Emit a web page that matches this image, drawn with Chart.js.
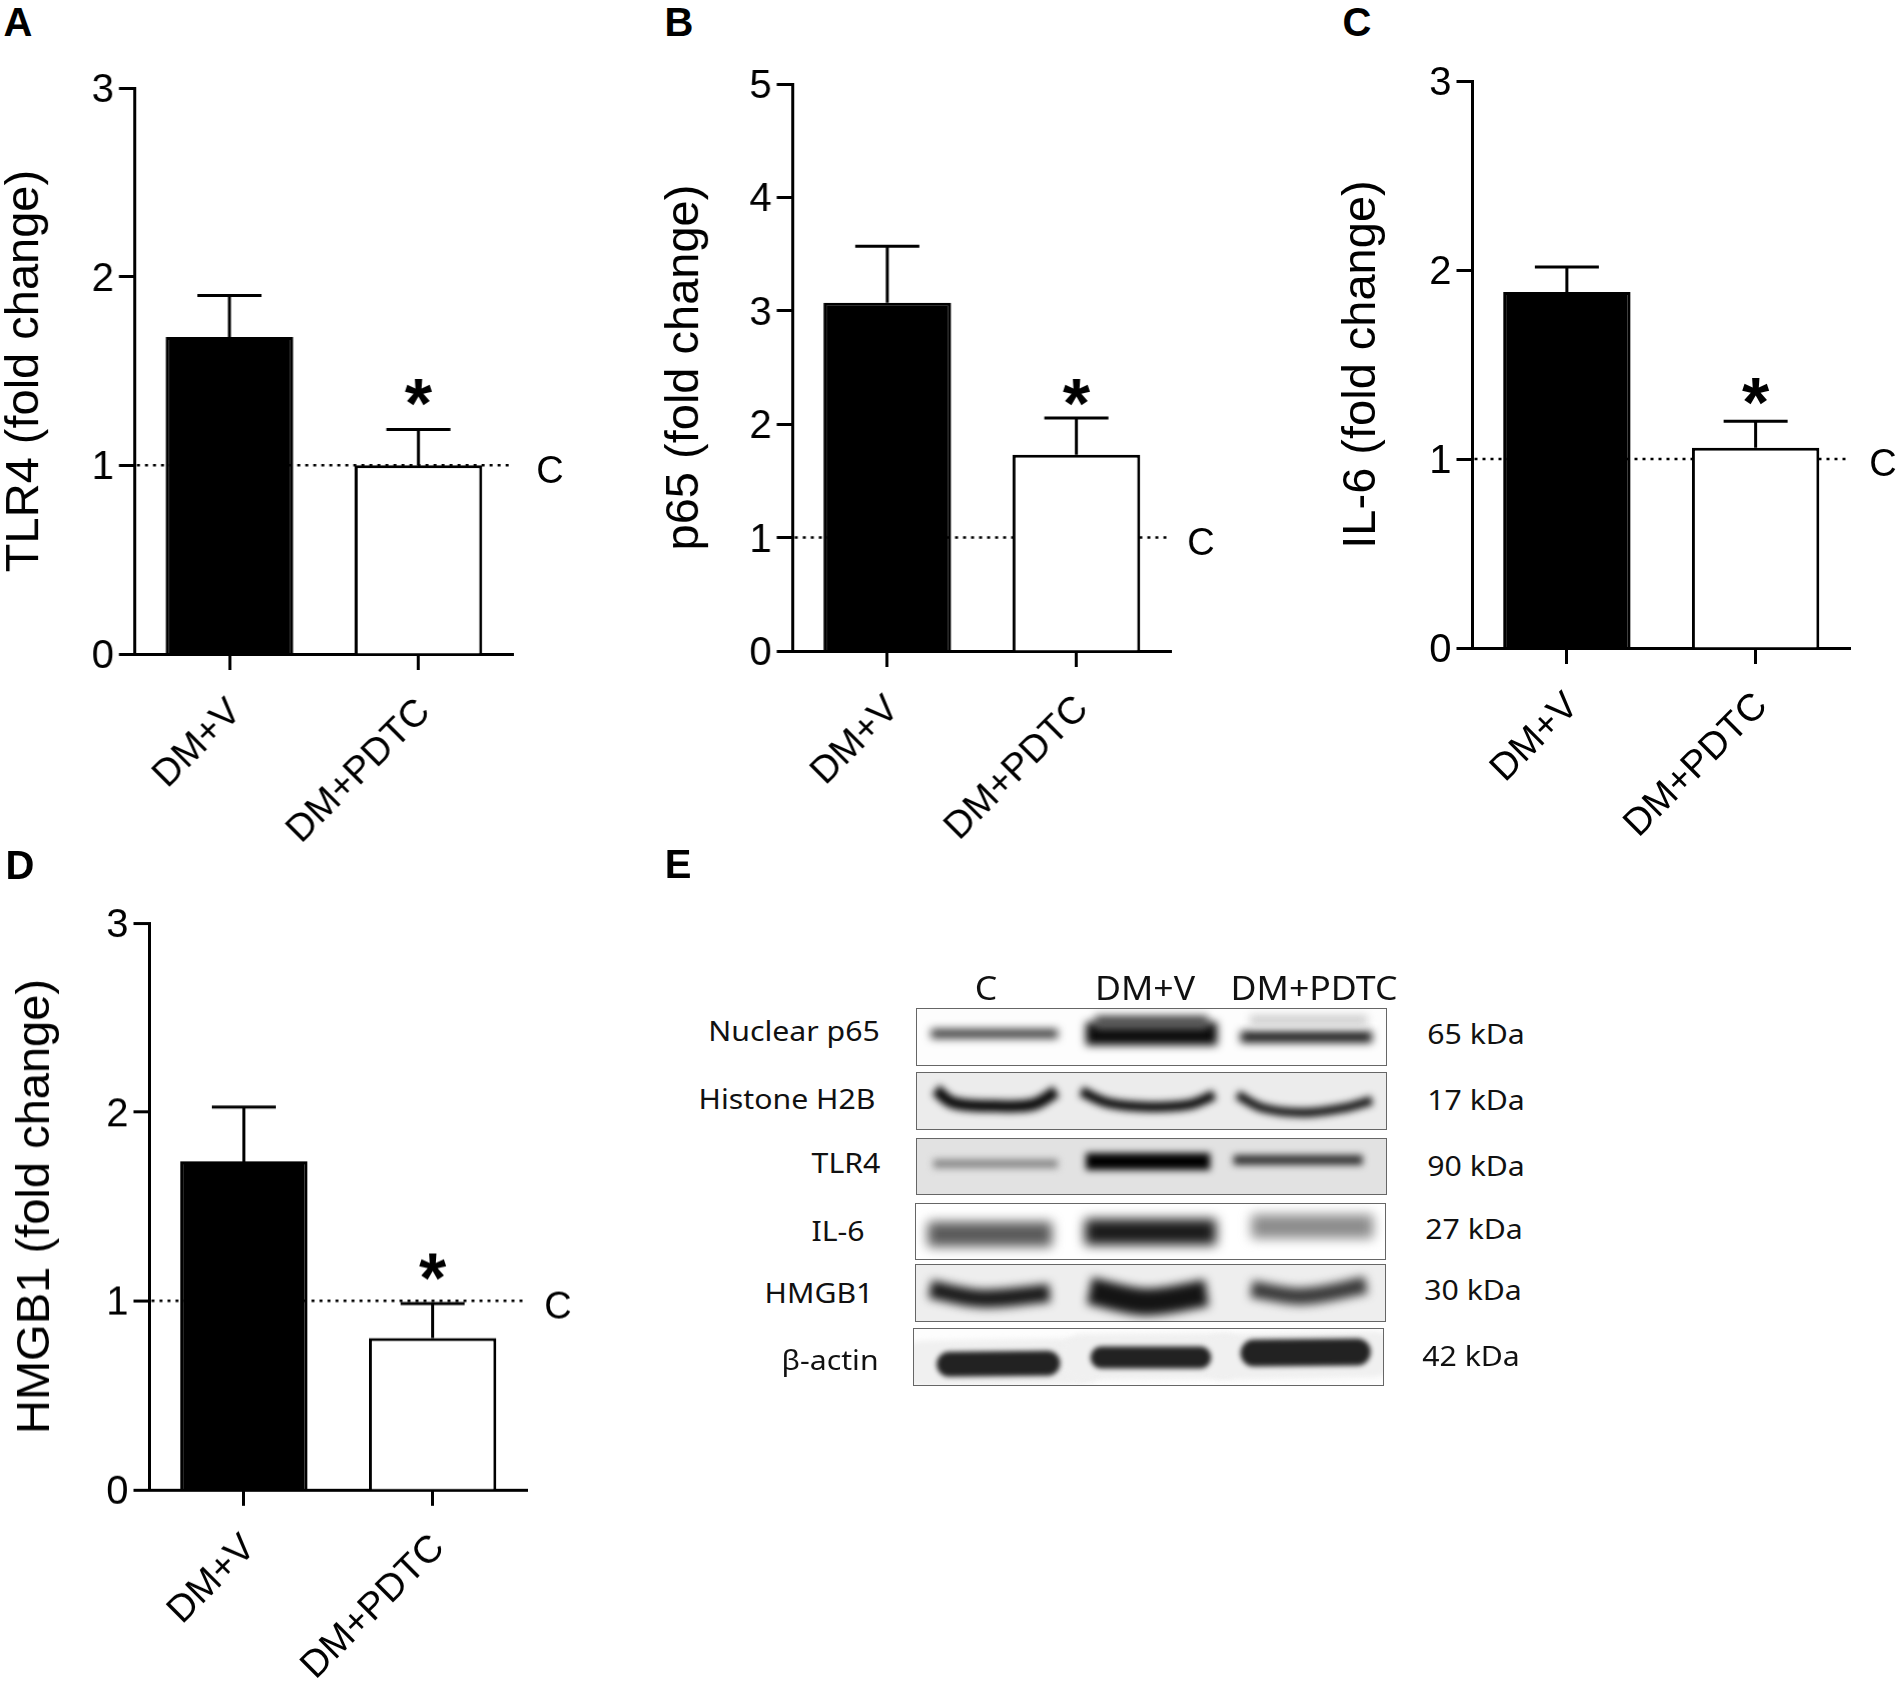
<!DOCTYPE html>
<html><head><meta charset="utf-8">
<script src="https://cdn.jsdelivr.net/npm/chart.js@4"></script>
<style>
html,body{margin:0;padding:0;background:#fff;width:1901px;height:1684px;overflow:hidden}
canvas{position:absolute;display:block}
.t{position:absolute;white-space:nowrap;color:#000;transform:translate(-50%,-50%);line-height:1}
.l{font:bold 40px "Liberation Sans";}
.b{font:28px "Noto Sans";color:#111;transform:translate(-50%,-50%) scaleX(1.08)}
.h{font:33px "Noto Sans";color:#111;transform:translate(-50%,-50%) scaleX(1.08)}
</style></head><body>
<script>
const categories = ["DM+V", "DM+PDTC"];
const tlr4Values = [1.68, 1.00];
const tlr4Errors = [1.90, 1.19];
const p65Values = [3.07, 1.73];
const p65Errors = [3.57, 2.055];
const il6Values = [1.883, 1.059];
const il6Errors = [2.016, 1.20];
const hmgb1Values = [1.738, 0.803];
const hmgb1Errors = [2.026, 0.986];
const controlLevel = 1;
const laneNames = ["C", "DM+V", "DM+PDTC"];
const blotNames = ["Nuclear p65", "Histone H2B", "TLR4", "IL-6", "HMGB1", "β-actin"];
const blotKda = ["65 kDa", "17 kDa", "90 kDa", "27 kDa", "30 kDa", "42 kDa"];
const panelLetters = ["A", "B", "C", "D", "E"];

const FONT = '"Liberation Sans", Arial, sans-serif';
const panels = [
 {title:"TLR4 (fold change)", values:tlr4Values, errors:tlr4Errors, yMax:3, star:1.388, left:-3, plotLeft:134.7, plotRight:512.5, plotTop:87.8, plotBottom:654.4, cGap:37},
 {title:"p65 (fold change)", values:p65Values, errors:p65Errors, yMax:5, star:2.28, left:657, plotLeft:792.5, plotRight:1170.5, plotTop:84, plotBottom:651, cGap:30},
 {title:"IL-6 (fold change)", values:il6Values, errors:il6Errors, yMax:3, star:1.355, left:1334, plotLeft:1472.5, plotRight:1850, plotTop:81, plotBottom:648.4, cGap:33},
 {title:"HMGB1 (fold change)", values:hmgb1Values, errors:hmgb1Errors, yMax:3, star:1.177, left:8, plotLeft:149.5, plotRight:527, plotTop:923.4, plotBottom:1490, cGap:31},
];

const annotate = {
 id:'annotate',
 beforeDatasetsDraw(chart, args, o){
  const {ctx, chartArea:a, scales:{y}} = chart, py = y.getPixelForValue(controlLevel);
  ctx.save(); ctx.strokeStyle='#000'; ctx.lineWidth=2.5; ctx.setLineDash([3,5]);
  ctx.beginPath(); ctx.moveTo(a.left+2,py); ctx.lineTo(a.right,py); ctx.stroke(); ctx.restore();
 },
 afterDatasetsDraw(chart, args, o){
  const {ctx, chartArea:a, scales:{x,y}} = chart;
  ctx.save(); ctx.strokeStyle='#000'; ctx.lineWidth=3; ctx.fillStyle='#000';
  o.values.forEach((v,i)=>{
   const px=x.getPixelForValue(i), p0=y.getPixelForValue(v), p1=y.getPixelForValue(o.errors[i]);
   ctx.beginPath(); ctx.moveTo(px,p0); ctx.lineTo(px,p1); ctx.moveTo(px-32,p1); ctx.lineTo(px+32,p1); ctx.stroke();
  });
  ctx.font='bold 70px '+FONT; ctx.textAlign='center'; ctx.textBaseline='alphabetic';
  const m=ctx.measureText('*');
  ctx.fillText('*', x.getPixelForValue(1), y.getPixelForValue(o.star)+(m.actualBoundingBoxAscent-m.actualBoundingBoxDescent)/2);
  ctx.font='38px '+FONT; ctx.textBaseline='middle';
  ctx.fillText('C', a.right+o.cGap, y.getPixelForValue(controlLevel)+7);
  ctx.restore();
 }
};

panels.forEach(p=>{
 const top=p.plotTop-30, H=p.plotBottom-top+195, W=p.plotRight-p.left+60;
 const c=document.createElement('canvas');
 c.style.left=p.left+'px'; c.style.top=top+'px'; c.width=W; c.height=H; c.style.width=W+'px'; c.style.height=H+'px';
 document.body.appendChild(c);
 new Chart(c,{
  type:'bar',
  data:{labels:categories,datasets:[{data:p.values,backgroundColor:['#000','#fff'],borderColor:'#000',borderWidth:3,borderSkipped:'bottom',barPercentage:0.675,categoryPercentage:1}]},
  plugins:[annotate],
  options:{
   responsive:false,animation:false,devicePixelRatio:1,
   layout:{padding:{top:30,right:60,bottom:0,left:0}},
   plugins:{legend:{display:false},tooltip:{enabled:false},title:{display:false},annotate:{values:p.values,errors:p.errors,star:p.star,cGap:p.cGap}},
   scales:{
    x:{type:'category',offset:true,
       afterFit(s){s.height=195;},
       grid:{offset:false,drawOnChartArea:false,drawTicks:true,tickLength:16,tickWidth:3,tickColor:'#000'},
       border:{color:'#000',width:3},
       ticks:{color:'#000',font:{family:FONT,size:38},maxRotation:45,minRotation:45,padding:20,labelOffset:6}},
    y:{type:'linear',min:0,max:p.yMax,
       afterFit(s){s.width=p.plotLeft-p.left;},
       grid:{drawOnChartArea:false,drawTicks:true,tickLength:16,tickWidth:3,tickColor:'#000'},
       border:{color:'#000',width:3},
       ticks:{stepSize:1,color:'#000',font:{family:FONT,size:40},padding:5,labelOffset:3},
       title:{display:true,text:p.title,color:'#000',font:{family:FONT,size:47},padding:0}}
   }
  }
 });
});

/* Western blot strips, panel E: one small chart per row. x and y are percent of the strip. */
const r1Bands=[[[3,44],[30,44]],[[36,44],[64,44]],[[69,50],[97,50]],[[71,20],[96,20]],[[38,24],[62,24]]];
const r1Style=[[9,'#333'],[23,'#0a0a0a'],[11,'#111'],[10,'#ccc'],[14,'#555']];
const r2Bands=[[[4,30],[7.7,53],[16.3,59],[24.9,56],[29.7,33]],[[35,33],[41,54],[49.8,60.5],[58.3,56],[63.4,39]],[[68.3,39],[73.8,62.5],[82.4,71],[91,62.5],[97,49]]];
const r2Style=[[12,'#0a0a0a'],[10,'#0a0a0a'],[9,'#111']];
const r3Bands=[[[3.5,45],[30,45]],[[36,41],[62.5,41]],[[67.5,38],[95,38]]];
const r3Style=[[9,'#8a8a8a'],[17,'#000'],[10,'#333']];
const r4Bands=[[[2.5,55],[29,55]],[[36,51],[64,51]],[[71.5,41],[97.5,41]]];
const r4Style=[[25,'#5a5a5a'],[26,'#1a1a1a'],[24,'#8c8c8c']];
const r5Bands=[[[3,43],[14,60],[28.5,50]],[[37,46],[49,66],[62,50]],[[71.5,43],[82.4,56],[96,36]]];
const r5Style=[[18,'#1a1a1a'],[27,'#141414'],[17,'#3a3a3a']];
const r6Bands=[[[2,62],[36,57]],[[36,50],[66,48]],[[66,50],[98,45]],[[7.5,63],[28.5,61]],[[40,51],[61,51]],[[72.5,43],[94.5,41]]];
const r6Style=[[46,'#f0f0f0'],[46,'#f0f0f0'],[46,'#f0f0f0'],[25,'#222'],[22,'#222'],[27,'#222']];
const strips=[
 {bands:r1Bands,style:r1Style,bg:'#fdfdfd',soft:4,cap:'butt',x:916.6,y:1009.4,w:469,h:56.3},
 {bands:r2Bands,style:r2Style,bg:'#ececec',soft:3.5,cap:'butt',x:916.6,y:1073,w:469,h:56.3},
 {bands:r3Bands,style:r3Style,bg:'#e2e2e2',soft:3.5,cap:'butt',x:916.6,y:1139,w:469,h:55.4},
 {bands:r4Bands,style:r4Style,bg:'#ffffff',soft:6,cap:'butt',x:915.5,y:1203.7,w:469,h:55.3},
 {bands:r5Bands,style:r5Style,bg:'#eeeeee',soft:5,cap:'butt',x:915.5,y:1265.4,w:469,h:55.9},
 {bands:r6Bands,style:r6Style,bg:'#fdfdfd',soft:2.5,cap:'round',x:914.3,y:1329,w:469,h:55.6},
];
const blur={id:'blur',
 beforeDatasetDraw(chart,a,o){chart.ctx.save();chart.ctx.filter='blur('+o.soft+'px)';},
 afterDatasetDraw(chart){chart.ctx.restore();}
};
strips.forEach(s=>{
 const c=document.createElement('canvas');
 const W=Math.round(s.w),H=Math.round(s.h);
 c.width=W;c.height=H;
 c.style.cssText=`left:${s.x}px;top:${s.y}px;width:${W}px;height:${H}px;background:${s.bg};outline:1.5px solid #666;`;
 document.body.appendChild(c);
 new Chart(c,{
  type:'line',
  data:{datasets:s.bands.map((b,i)=>({data:b.map(q=>({x:q[0],y:q[1]})),borderColor:s.style[i][1],borderWidth:s.style[i][0],tension:0.35,pointRadius:0,borderCapStyle:s.cap,borderJoinStyle:'round',fill:false,order:-i}))},
  plugins:[blur],
  options:{responsive:false,animation:false,devicePixelRatio:1,layout:{padding:0},
   plugins:{legend:{display:false},tooltip:{enabled:false},blur:{soft:s.soft}},
   scales:{x:{type:'linear',min:0,max:100,display:false},y:{type:'linear',min:0,max:100,reverse:true,display:false}}}
 });
});

function put(text,cls,x,y){const d=document.createElement('div');d.className='t '+cls;d.textContent=text;d.style.left=x+'px';d.style.top=y+'px';document.body.appendChild(d);}
[[18,22],[679,22],[1357,22],[20,865],[678,864]].forEach((q,i)=>put(panelLetters[i],'l',q[0],q[1]));
[[986,987],[1145,987],[1314,987]].forEach((q,i)=>put(laneNames[i],'h',q[0],q[1]));
[[794,1030],[787,1098],[846,1162],[838,1230],[819,1292],[830,1359]].forEach((q,i)=>put(blotNames[i],'b',q[0],q[1]));
[[1476,1033],[1476,1099],[1476,1165],[1474,1228],[1473,1289],[1471,1355]].forEach((q,i)=>put(blotKda[i],'b',q[0],q[1]));
</script>
</body></html>
